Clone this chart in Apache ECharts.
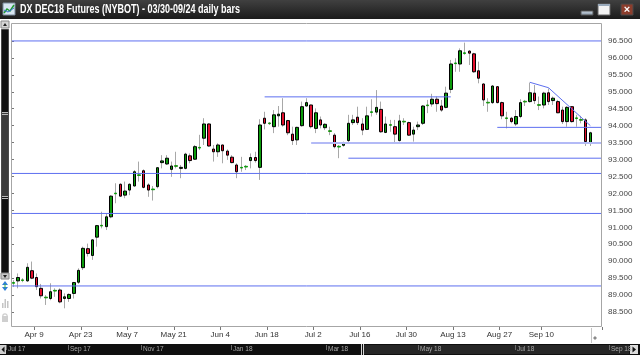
<!DOCTYPE html>
<html>
<head>
<meta charset="utf-8">
<script src="https://cdn.jsdelivr.net/npm/echarts@6/dist/echarts.min.js"></script>
<style>
  html, body { margin: 0; padding: 0; background: #fff; }
  #chart { width: 640px; height: 355px; }
</style>
</head>
<body>
<div id="chart"></div>
<script>
  // trading days shown (Sep 3 has no bar)
  var dates = [
    'Apr 2', 'Apr 3', 'Apr 4', 'Apr 5', 'Apr 6', 'Apr 9', 'Apr 10', 'Apr 11', 'Apr 12', 'Apr 13',
    'Apr 16', 'Apr 17', 'Apr 18', 'Apr 19', 'Apr 20', 'Apr 23', 'Apr 24', 'Apr 25', 'Apr 26', 'Apr 27', 'Apr 30',
    'May 1', 'May 2', 'May 3', 'May 4', 'May 7', 'May 8', 'May 9', 'May 10', 'May 11',
    'May 14', 'May 15', 'May 16', 'May 17', 'May 18', 'May 21', 'May 22', 'May 23', 'May 24', 'May 25',
    'May 28', 'May 29', 'May 30', 'May 31',
    'Jun 1', 'Jun 4', 'Jun 5', 'Jun 6', 'Jun 7', 'Jun 8', 'Jun 11', 'Jun 12', 'Jun 13', 'Jun 14', 'Jun 15',
    'Jun 18', 'Jun 19', 'Jun 20', 'Jun 21', 'Jun 22', 'Jun 25', 'Jun 26', 'Jun 27', 'Jun 28', 'Jun 29',
    'Jul 2', 'Jul 3', 'Jul 4', 'Jul 5', 'Jul 6', 'Jul 9', 'Jul 10', 'Jul 11', 'Jul 12', 'Jul 13',
    'Jul 16', 'Jul 17', 'Jul 18', 'Jul 19', 'Jul 20', 'Jul 23', 'Jul 24', 'Jul 25', 'Jul 26', 'Jul 27',
    'Jul 30', 'Jul 31',
    'Aug 1', 'Aug 2', 'Aug 3', 'Aug 6', 'Aug 7', 'Aug 8', 'Aug 9', 'Aug 10', 'Aug 13', 'Aug 14', 'Aug 15',
    'Aug 16', 'Aug 17', 'Aug 20', 'Aug 21', 'Aug 22', 'Aug 23', 'Aug 24', 'Aug 27', 'Aug 28', 'Aug 29',
    'Aug 30', 'Aug 31',
    'Sep 4', 'Sep 5', 'Sep 6', 'Sep 7', 'Sep 10', 'Sep 11', 'Sep 12', 'Sep 13', 'Sep 14',
    'Sep 17', 'Sep 18', 'Sep 19', 'Sep 20', 'Sep 21', 'Sep 24'
  ];
  var emptyDays = ['Sep 25', 'Sep 26'];

  var opens = [
    89.35, 89.42, 89.45, 89.42, 89.72, 89.52, 89.20, 88.94, 88.90, 89.12,
    89.15, 88.90, 88.90, 89.05, 89.38, 89.81, 90.37, 90.17, 90.71, 91.06,
    91.02, 91.31, 91.99, 92.27, 91.95, 92.10, 92.22, 92.55, 92.67, 92.25,
    92.11, 92.20, 92.91, 92.87, 92.71, 92.82, 92.74, 92.74, 93.11, 93.01,
    93.34, 93.63, 94.05, 93.31, 93.23, 93.43, 93.25, 93.07, 92.84, 92.75,
    92.78, 92.97, 93.06, 92.77, 94.22, 94.08, 93.97, 94.29, 94.38, 94.15,
    93.75, 93.58, 94.00, 94.58, 94.61, 93.92, 94.17, 93.94, 93.85, 93.72,
    93.37, 93.42, 93.56, 94.09, 94.25, 94.05, 93.89, 94.39, 94.40, 94.48,
    93.80, 94.03, 93.97, 93.56, 94.13, 94.09, 93.75, 93.97, 94.07, 94.61,
    94.64, 94.78, 94.58, 94.54, 95.07, 95.83, 95.82, 96.13, 96.20, 96.12,
    95.62, 95.23, 94.69, 94.68, 95.15, 94.68, 94.23, 94.22, 94.05, 94.27,
    94.72, 94.71, 94.96, 94.62, 94.61, 94.97, 94.74, 94.71, 94.46, 94.12,
    94.56, 94.21, 94.18, 94.17, 93.50
  ];
  var closes = [
    89.37, 89.52, 89.43, 89.82, 89.50, 89.25, 88.98, 88.92, 89.10, 89.14,
    88.80, 88.95, 89.02, 89.37, 89.73, 90.38, 90.23, 90.63, 91.05, 91.04,
    91.31, 91.92, 92.01, 91.92, 92.07, 92.27, 92.64, 92.53, 92.18, 92.10,
    92.13, 92.76, 92.96, 93.04, 92.81, 92.80, 92.77, 93.16, 92.97, 93.38,
    93.36, 94.05, 93.40, 93.23, 93.43, 93.26, 93.13, 92.91, 92.64, 92.77,
    92.80, 93.06, 92.97, 94.02, 94.07, 94.06, 94.32, 94.34, 94.02, 93.79,
    93.56, 93.95, 94.56, 94.68, 93.97, 94.38, 94.02, 94.04, 93.83, 93.38,
    93.39, 93.50, 94.07, 94.17, 94.09, 93.87, 94.29, 94.41, 94.54, 93.82,
    94.05, 94.01, 93.75, 94.14, 94.11, 93.72, 93.87, 94.02, 94.58, 94.59,
    94.78, 94.65, 94.46, 94.96, 95.82, 95.85, 96.21, 96.15, 96.14, 95.59,
    95.40, 94.76, 94.67, 95.17, 94.68, 94.29, 94.21, 94.12, 94.27, 94.68,
    94.70, 94.97, 94.74, 94.60, 94.96, 94.71, 94.81, 94.38, 94.12, 94.54,
    94.12, 94.23, 94.16, 93.53, 93.79
  ];
  var lows = [
    89.24, 89.20, 89.38, 89.39, 89.47, 89.15, 88.90, 88.71, 88.85, 88.95,
    88.76, 88.61, 88.80, 88.90, 89.33, 89.74, 90.14, 90.04, 90.43, 90.97,
    90.92, 91.27, 91.71, 91.90, 91.86, 91.95, 92.20, 92.35, 92.15, 91.90,
    91.79, 92.15, 92.74, 92.84, 92.49, 92.74, 92.45, 92.71, 92.89, 92.99,
    93.28, 93.43, 93.38, 92.94, 93.08, 92.89, 92.99, 92.89, 92.45, 92.64,
    92.69, 92.74, 92.91, 92.40, 93.89, 94.02, 93.78, 93.97, 93.97, 93.72,
    93.43, 93.43, 93.97, 94.56, 93.92, 93.78, 93.92, 93.87, 93.72, 93.33,
    93.04, 93.38, 93.48, 94.02, 94.02, 93.72, 93.87, 94.27, 94.32, 93.79,
    93.78, 93.82, 93.48, 93.53, 94.02, 93.70, 93.53, 93.87, 94.02, 94.37,
    94.56, 94.41, 94.41, 94.51, 94.96, 95.59, 95.59, 96.09, 95.79, 95.56,
    95.25, 94.58, 94.41, 94.64, 94.66, 94.19, 93.92, 94.07, 93.99, 94.22,
    94.58, 94.68, 94.64, 94.46, 94.51, 94.61, 94.61, 94.37, 94.05, 93.97,
    94.09, 93.97, 94.07, 93.40, 93.40
  ];
  var highs = [
    89.44, 89.64, 89.50, 89.94, 89.99, 89.64, 89.33, 89.00, 89.35, 89.20,
    89.20, 89.05, 89.05, 89.39, 89.79, 90.43, 90.52, 90.65, 91.07, 91.46,
    91.41, 91.95, 92.30, 92.30, 92.35, 92.30, 92.69, 92.94, 92.71, 92.30,
    92.22, 92.77, 93.13, 93.13, 92.94, 93.23, 92.84, 93.20, 93.18, 93.43,
    93.73, 94.22, 94.07, 93.43, 93.48, 93.44, 93.30, 93.13, 92.89, 93.08,
    92.84, 93.18, 93.23, 94.19, 94.41, 94.10, 94.46, 94.58, 94.81, 94.17,
    93.97, 93.97, 94.71, 94.81, 94.62, 94.51, 94.27, 94.07, 93.97, 93.78,
    93.43, 93.53, 94.32, 94.32, 94.56, 94.22, 94.56, 94.78, 95.05, 94.71,
    94.27, 94.17, 94.17, 94.32, 94.22, 94.12, 93.97, 94.12, 94.61, 94.76,
    94.94, 94.86, 94.76, 95.15, 95.94, 95.99, 96.28, 96.45, 96.23, 96.15,
    95.89, 95.25, 94.81, 95.20, 95.17, 94.71, 94.41, 94.26, 94.46, 94.78,
    94.76, 95.27, 95.20, 94.86, 95.00, 95.10, 94.86, 94.76, 94.56, 94.58,
    94.58, 94.32, 94.29, 94.22, 93.82
  ];

  var labelDates = ['Apr 9', 'Apr 23', 'May 7', 'May 21', 'Jun 4', 'Jun 18', 'Jul 2',
                    'Jul 16', 'Jul 30', 'Aug 13', 'Aug 27', 'Sep 10'];
  var priceTicks = [88.5, 89, 89.5, 90, 90.5, 91, 91.5, 92, 92.5, 93, 93.5, 94, 94.5, 95, 95.5, 96, 96.5];

  // drawn horizontal levels across the whole chart
  var levels = [96.5, 92.59, 91.41, 89.27];
  // drawn lines: [start day, start price, end day, end price]; null end day = right edge
  var trendLines = [
    ['Jun 15', 94.85, 'Aug 10', 94.85],
    ['Jul 11', 93.04, null, 93.04],
    ['Aug 24', 93.95, null, 93.95],
    ['Sep 5', 95.28, 'Sep 11', 95.12],
    ['Sep 11', 95.12, 'Sep 24', 94.00]
  ];
  var paleLines = [
    ['Jun 29', 93.49, null, 93.49]
  ];

  var UP = '#0b9b0b';
  var DOWN = '#e5102e';
  var WICK = '#a8a8a8';
  var LINE = '#5d6ff0';
  var PALE = '#b3baf6';
  var FONT = '"Liberation Sans", Arial, sans-serif';

  var cats = dates.concat(emptyDays);

  var wickData = [];
  var bodyData = [];
  for (var i = 0; i < opens.length; i++) {
    var o = opens[i], c = closes[i];
    wickData.push([o, c, lows[i], highs[i]]);
    var item = {value: [o, c, Math.min(o, c), Math.max(o, c)]};
    if (Math.abs(o - c) < 0.03) {
      // doji: flat coloured dash
      item.itemStyle = {borderColor: UP, borderColor0: DOWN};
    }
    bodyData.push(item);
  }

  // drawings go on a hidden value x axis that spans the same bands (band i centre = i + 0.5)
  function bandPos (day) {
    return day === null ? cats.length : cats.indexOf(day) + 0.5;
  }
  function drawing (pts, color, width) {
    return {
      type: 'line', xAxisIndex: 1, yAxisIndex: 0, data: pts,
      symbol: 'none', showSymbol: false, silent: true, animation: false,
      lineStyle: {color: color, width: width, opacity: 1}, z: 3
    };
  }
  var drawSeries = [];
  levels.forEach(function (v) {
    drawSeries.push(drawing([[0, v], [cats.length, v]], LINE, 1));
  });
  trendLines.forEach(function (s) {
    drawSeries.push(drawing([[bandPos(s[0]), s[1]], [bandPos(s[2]), s[3]]], LINE, 1));
  });
  paleLines.forEach(function (s) {
    drawSeries.push(drawing([[bandPos(s[0]), s[1]], [bandPos(s[2]), s[3]]], PALE, 2));
  });

  function showDay (idx, val) {
    return labelDates.indexOf(val) >= 0;
  }

  var chrome = [
    // title bar
    {type: 'rect', shape: {x: 0, y: 0, width: 640, height: 19},
      style: {fill: new echarts.graphic.LinearGradient(0, 0, 0, 1, [{offset: 0, color: '#404040'}, {offset: 1, color: '#1b1b1b'}])}},
    {type: 'rect', shape: {x: 3, y: 3, width: 12, height: 12}, style: {fill: '#d8e6f2', stroke: '#7a8a9a', lineWidth: 1}},
    {type: 'polyline', shape: {points: [[4, 13], [7, 9], [10, 11], [14, 5]]}, style: {stroke: '#1f9a2f', lineWidth: 1.5, fill: null}},
    {type: 'polyline', shape: {points: [[4, 10], [8, 12], [14, 8]]}, style: {stroke: '#3a6fd0', lineWidth: 1, fill: null}},
    {type: 'text', x: 20, y: 10, scaleX: 0.75,
      style: {text: 'DX DEC18 Futures (NYBOT) - 03/30-09/24 daily bars', fill: '#ffffff', font: 'bold 12px ' + FONT, verticalAlign: 'middle'}},
    {type: 'rect', shape: {x: 581, y: 11, width: 12, height: 4},
      style: {fill: new echarts.graphic.LinearGradient(0, 0, 0, 1, [{offset: 0, color: '#d2dde8'}, {offset: 1, color: '#8493a3'}]), stroke: '#555'}},
    {type: 'rect', shape: {x: 598, y: 4, width: 12, height: 11}, style: {fill: '#f3f3f3', stroke: '#666'}},
    {type: 'rect', shape: {x: 598, y: 4, width: 12, height: 2}, style: {fill: '#9aaabb'}},
    {type: 'rect', shape: {x: 621, y: 4, width: 12, height: 11}, style: {fill: '#8c3d2c', stroke: '#4a4a4a'}},
    {type: 'text', x: 627, y: 9.5, style: {text: '×', fill: '#fff', font: 'bold 11px ' + FONT, align: 'center', verticalAlign: 'middle'}},

    // plot frame
    {type: 'rect', shape: {x: 11.5, y: 23.5, width: 590, height: 303}, style: {fill: null, stroke: '#a6a6a6', lineWidth: 1}, z: 10},

    // left scroll strip
    {type: 'rect', shape: {x: 1, y: 21, width: 8, height: 7}, style: {fill: '#d6d6d6', stroke: '#8a8a8a'}},
    {type: 'polygon', shape: {points: [[3, 26], [5, 23], [7, 26]]}, style: {fill: '#222'}},
    {type: 'rect', shape: {x: 1.5, y: 29.5, width: 7, height: 244}, style: {fill: '#121212', stroke: '#4a4a4a'}},
    {type: 'rect', shape: {x: 2, y: 113, width: 6, height: 84}, style: {fill: '#3b3b3b'}},
    {type: 'rect', shape: {x: 2, y: 112, width: 6, height: 1}, style: {fill: '#bbb'}},
    {type: 'rect', shape: {x: 2, y: 114, width: 6, height: 1}, style: {fill: '#bbb'}},
    {type: 'rect', shape: {x: 2, y: 196, width: 6, height: 1}, style: {fill: '#bbb'}},
    {type: 'rect', shape: {x: 2, y: 198, width: 6, height: 1}, style: {fill: '#bbb'}},
    {type: 'rect', shape: {x: 1, y: 273, width: 8, height: 6}, style: {fill: '#c9c9c9', stroke: '#8a8a8a'}},
    {type: 'polygon', shape: {points: [[3, 275], [7, 275], [5, 278]]}, style: {fill: '#222'}},
    {type: 'polygon', shape: {points: [[5, 281], [8, 285], [2, 285]]}, style: {fill: '#2f7fd8'}},
    {type: 'polygon', shape: {points: [[2, 287], [8, 287], [5, 291]]}, style: {fill: '#2f7fd8'}},
    {type: 'rect', shape: {x: 4.5, y: 284, width: 1, height: 4}, style: {fill: '#3cb04a'}},
    {type: 'rect', shape: {x: 2, y: 303, width: 1.5, height: 5}, style: {fill: '#c4c4c4'}},
    {type: 'rect', shape: {x: 4.5, y: 299, width: 1.5, height: 9}, style: {fill: '#c4c4c4'}},
    {type: 'rect', shape: {x: 7, y: 301, width: 1.5, height: 7}, style: {fill: '#c4c4c4'}},
    {type: 'rect', shape: {x: 2, y: 316, width: 6, height: 6}, style: {fill: '#cfcfcf'}},
    {type: 'arc', shape: {cx: 5, cy: 316, r: 2.2, startAngle: Math.PI, endAngle: 0}, style: {stroke: '#cfcfcf', lineWidth: 1.2, fill: null}},

    // bottom right corner widget
    {type: 'line', shape: {x1: 591.5, y1: 328, x2: 591.5, y2: 343}, style: {stroke: '#c4c4c4'}},
    {type: 'polygon', shape: {points: [[595, 336], [597, 338], [595, 340], [593, 338]]}, style: {fill: '#8a8a8a'}},

    // navigator strip
    {type: 'rect', shape: {x: 0, y: 344, width: 640, height: 11}, style: {fill: '#0f0f0f'}},
    {type: 'rect', shape: {x: 364, y: 345, width: 265, height: 9}, style: {fill: '#262626'}},
    {type: 'rect', shape: {x: 361, y: 344, width: 1, height: 11}, style: {fill: '#d8d8d8'}},
    {type: 'rect', shape: {x: 363, y: 344, width: 1, height: 11}, style: {fill: '#d8d8d8'}},
    {type: 'rect', shape: {x: 0, y: 345, width: 6, height: 9}, style: {fill: '#cfcfcf'}},
    {type: 'polygon', shape: {points: [[4.5, 346.5], [4.5, 352.5], [1.5, 349.5]]}, style: {fill: '#111'}},
    {type: 'rect', shape: {x: 630, y: 345, width: 8, height: 9}, style: {fill: '#dcdcdc'}},
    {type: 'polygon', shape: {points: [[632.5, 346.5], [632.5, 352.5], [636, 349.5]]}, style: {fill: '#111'}}
  ];

  var navLabels = [['Jul 17', 8], ['Sep 17', 70], ['Nov 17', 143], ['Jan 18', 233],
                   ['Mar 18', 328], ['May 18', 420], ['Jul 18', 517], ['Sep 18', 611]];
  navLabels.forEach(function (n) {
    chrome.push({type: 'line', shape: {x1: n[1] - 1.5, y1: 345, x2: n[1] - 1.5, y2: 350}, style: {stroke: '#6a6a6a'}});
    chrome.push({type: 'text', x: n[1], y: 349.5,
      style: {text: n[0], fill: '#a8a8a8', font: '6.5px ' + FONT, verticalAlign: 'middle'}});
  });

  var myChart = echarts.init(document.getElementById('chart'), null, {renderer: 'canvas'});
  var option = {
    animation: false,
    backgroundColor: '#ffffff',
    grid: {left: 11, right: 38, top: 24, bottom: 26, show: false},
    xAxis: [{
      type: 'category',
      data: cats,
      boundaryGap: true,
      offset: -2,
      axisLine: {show: false},
      axisTick: {show: true, interval: showDay, length: 3, lineStyle: {color: '#777'}},
      axisLabel: {
        interval: showDay,
        fontSize: 8,
        fontFamily: FONT,
        color: '#333',
        margin: 4,
        padding: [0, 5, 0, 0]
      },
      splitLine: {show: false}
    }, {
      type: 'value',
      min: 0,
      max: cats.length,
      show: false
    }],
    yAxis: {
      type: 'value',
      position: 'right',
      min: 88,
      max: 97,
      interval: 0.5,
      axisLine: {show: false},
      axisTick: {show: true, length: 3, customValues: priceTicks, lineStyle: {color: '#777'}},
      axisLabel: {
        margin: 6,
        fontSize: 8,
        fontFamily: FONT,
        color: '#444',
        customValues: priceTicks,
        formatter: function (v) {
          if (v < 88.01 || v > 96.99) return '';
          return v.toFixed(3);
        }
      },
      splitLine: {show: false}
    },
    graphic: chrome,
    series: [
      {
        name: 'range',
        type: 'candlestick',
        data: wickData,
        barWidth: 1,
        itemStyle: {
          color: WICK, color0: WICK, borderColor: WICK, borderColor0: WICK,
          borderColorDoji: WICK, borderWidth: 1
        }
      },
      {
        name: 'body',
        type: 'candlestick',
        data: bodyData,
        barWidth: 3,
        itemStyle: {
          color: UP, color0: DOWN, borderColor: '#000', borderColor0: '#000',
          borderColorDoji: '#000', borderWidth: 1
        }
      }
    ].concat(drawSeries)
  };
  myChart.setOption(option);
</script>
</body>
</html>
